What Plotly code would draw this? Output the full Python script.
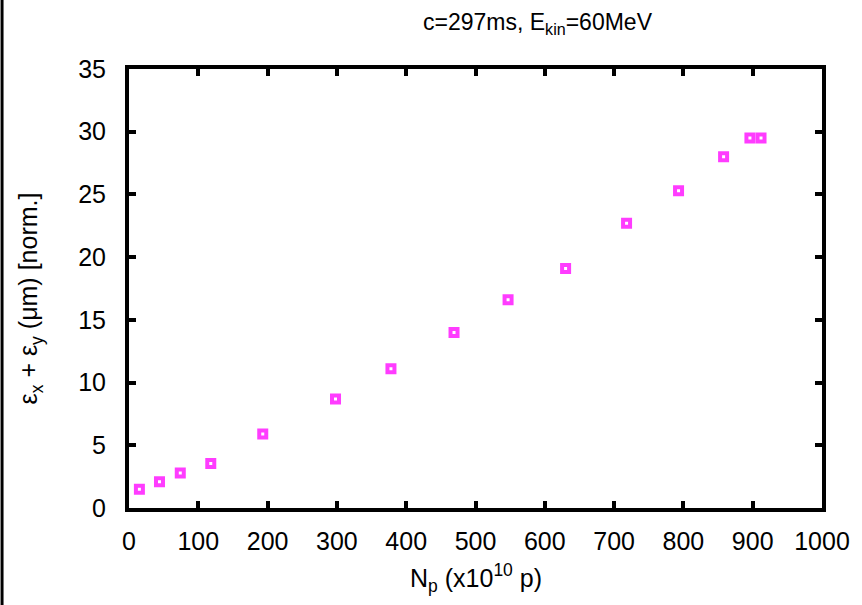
import plotly.graph_objects as go

# N_p (x10^10 p) vs normalized emittance sum
n_p = [15, 44, 74, 118, 193, 298, 378, 469, 547, 630, 718, 793, 858, 896, 912]
emit = [1.5, 2.1, 2.8, 3.55, 5.9, 8.7, 11.1, 14.0, 16.6, 19.1, 22.7, 25.3, 28.0, 29.5, 29.5]

x_ticks = list(range(0, 1001, 100))
y_ticks = list(range(0, 36, 5))

W, H = 862, 605
L, R, T, B = 129, 37, 69, 97
pw, ph = W - L - R, H - T - B
font = "Liberation Sans, Arial, Helvetica"

fig = go.Figure(go.Scatter(
    x=n_p, y=emit, mode="markers",
    marker=dict(symbol="square-open", size=7, color="#ff3cff",
                line=dict(width=4, color="#ff3cff")),
    showlegend=False))

axis_common = dict(showline=True, linecolor="black", linewidth=4, mirror="ticks",
                   ticks="inside", ticklen=7, tickwidth=4, tickcolor="black",
                   showgrid=False, zeroline=False,
                   tickfont=dict(family=font, size=25, color="black"))

fig.update_layout(
    width=W, height=H,
    margin=dict(l=L, r=R, t=T, b=B),
    plot_bgcolor="white", paper_bgcolor="white",
    xaxis=dict(range=[0, 1000], tickvals=x_ticks, ticklabelstandoff=8, **axis_common),
    yaxis=dict(range=[0, 35], tickvals=y_ticks, ticklabelstandoff=14, **axis_common),
    annotations=[
        dict(text="c=297ms, E<sub>kin</sub>=60MeV", xref="paper", yref="paper",
             x=(540 - L) / pw, y=1 + (T - 24) / ph, xanchor="center", yanchor="middle",
             showarrow=False, font=dict(family="Liberation Sans Narrow, Arial Narrow, " + font, size=23, color="black")),
        dict(text="N<sub>p</sub> (x10<sup>10</sup> p)", xref="paper", yref="paper",
             x=(477 - L) / pw, y=-(578 - T - ph) / ph, xanchor="center", yanchor="middle",
             showarrow=False, font=dict(family=font, size=25, color="black")),
        dict(text="ε<sub>x</sub> + ε<sub>y</sub> (μm) [norm.]", xref="paper", yref="paper",
             x=-(L - 30) / pw, y=(T + ph - 298) / ph, xanchor="center", yanchor="middle",
             textangle=-90, showarrow=False, font=dict(family=font, size=25, color="black")),
    ],
    shapes=[dict(type="rect", xref="paper", yref="paper", x0=-L / pw, x1=-(L - 3) / pw,
                 y0=-B / ph, y1=1 + T / ph, fillcolor="black", line=dict(width=0))],
)

fig.write_html("out.html", config={"displayModeBar": False},
               post_script="document.body.style.margin='0';")
